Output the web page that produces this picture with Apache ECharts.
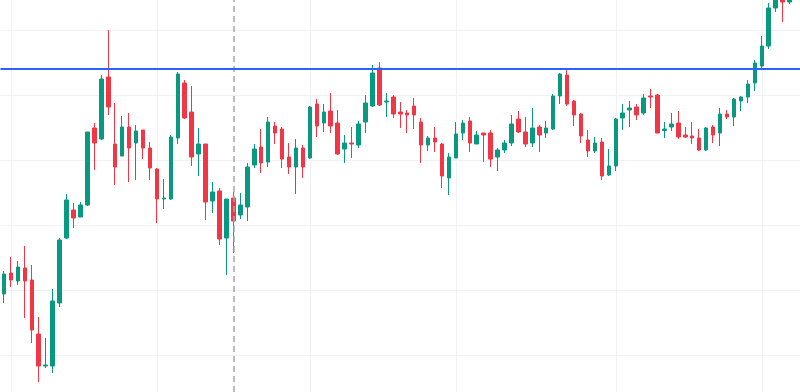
<!DOCTYPE html>
<html>
<head>
<meta charset="utf-8">
<script src="https://cdn.jsdelivr.net/npm/echarts@6/dist/echarts.min.js"></script>
<style>html,body{margin:0;padding:0;background:#fff}#c{width:800px;height:392px}</style>
</head>
<body>
<div id="c"></div>
<script>
// OHLC values: [open, close, low, high]
const ohlc = [
[12.6,14.6,11.7,14.9],[14.7,14.0,13.3,16.3],[13.9,15.3,13.5,15.9],[15.2,13.9,10.2,17.4],[14.0,9.0,7.7,15.5],
[8.6,5.4,3.8,10.3],[5.4,5.5,5.2,8.2],[5.4,11.9,4.7,13.1],[11.7,18.0,11.3,18.2],[18.2,22.0,18.1,22.6],
[21.0,20.2,19.2,21.7],[20.3,21.5,20.3,21.8],[21.5,28.8,21.4,28.8],[29.2,27.7,25.0,29.7],[28.1,34.1,28.0,34.5],
[34.3,31.3,30.5,39.0],[27.6,25.3,23.5,31.7],[26.4,29.3,26.4,30.4],[29.3,27.2,23.8,30.7],[27.7,28.9,24.0,29.5],
[29.0,27.2,26.1,29.0],[27.2,25.2,24.0,27.8],[25.1,22.1,19.7,25.2],[22.1,22.2,21.1,24.1],[22.1,28.3,22.0,28.5],
[28.2,34.6,27.6,34.8],[33.7,30.2,30.1,34.0],[30.8,26.3,25.4,33.4],[26.6,27.6,24.4,29.2],[27.6,21.8,20.0,27.6],
[21.9,22.8,20.7,23.8],[22.9,18.1,17.5,23.2],[18.2,22.1,14.5,22.1],[22.2,19.9,16.7,22.8],[20.5,21.5,20.1,22.7],
[21.3,25.3,19.9,25.7],[25.5,27.1,25.2,27.6],[27.3,25.7,24.7,29.1],[25.8,29.8,25.3,30.3],[29.4,28.7,27.6,29.8],
[29.1,26.1,25.2,29.3],[26.3,25.3,24.6,27.7],[25.3,27.2,22.6,28.1],[27.2,25.3,24.2,27.5],[26.2,31.3,26.1,31.4],
[31.6,29.4,28.3,32.1],[29.7,30.8,28.8,31.6],[30.9,29.4,28.7,32.7],[29.7,26.6,26.5,31.0],[27.1,27.7,25.7,28.5],
[27.7,27.6,26.2,29.3],[27.5,29.6,27.2,29.9],[29.8,31.7,28.7,32.5],[31.4,34.7,31.3,35.5],[35.2,31.5,31.4,35.8],
[31.8,31.9,30.3,32.7],[32.3,30.6,30.2,32.5],[30.8,30.6,29.2,31.8],[30.7,30.5,28.7,31.0],[31.4,30.5,29.1,32.2],
[29.8,27.5,25.7,30.2],[27.5,28.2,26.9,28.4],[28.2,27.8,26.8,29.3],[27.6,24.4,23.2,27.7],[24.2,26.3,22.5,26.7],
[26.2,28.6,26.2,29.8],[28.7,29.7,28.0,30.0],[29.9,27.7,26.8,30.3],[27.6,28.5,27.6,28.9],[28.7,28.5,25.8,28.7],
[28.7,26.1,25.3,29.0],[26.3,27.0,24.9,27.2],[27.0,27.7,26.7,28.0],[27.7,29.6,27.4,30.5],[30.1,28.8,28.7,30.9],
[28.8,27.6,27.3,30.3],[27.7,29.2,27.3,31.2],[29.3,28.5,26.8,29.5],[28.7,29.2,28.2,29.9],[29.1,32.4,29.0,32.6],
[32.4,34.6,31.6,34.7],[34.5,31.6,31.4,35.0],[31.9,30.5,29.4,32.0],[30.6,28.4,27.7,30.7],[28.0,26.9,26.3,29.0],
[26.9,27.7,26.7,28.3],[27.8,24.4,24.0,28.2],[24.5,25.4,24.4,27.1],[25.4,30.1,24.9,30.2],[30.2,30.7,29.0,31.6],
[31.0,31.2,29.3,31.9],[31.3,30.5,30.0,31.6],[30.7,32.2,30.5,32.6],[32.4,32.3,31.2,33.1],[32.5,28.7,28.7,32.6],
[28.95,29.1,28.2,29.8],[29.3,29.6,28.9,30.7],[29.7,28.3,28.1,30.9],[28.5,28.3,28.2,29.3],[28.4,28.2,27.6,29.8],
[28.2,27.0,26.9,29.1],[27.0,29.2,26.9,29.3],[29.3,28.5,27.7,29.5],[28.7,30.6,27.4,31.2],[30.6,30.3,30.1,31.0],
[30.3,32.1,29.4,32.2],[31.9,32.3,30.9,32.4],[32.3,33.6,31.7,34.0],[33.7,35.7,32.9,36.0],[35.4,37.4,35.2,38.4],
[37.4,41.2,37.1,41.7],[41.2,42.5,40.8,43.0],[42.6,41.8,39.8,43.0],[41.8,42.4,41.6,42.8]
];
// one empty trailing slot after the last candle
const categories = Array.from({length: ohlc.length + 1}, (_, i) => 'D' + (i + 1));
const gridCategories = ['D2', 'D23', 'D45', 'D66', 'D89', 'D110'];
const gridValues = [6.5, 13, 19.5, 26, 32.5, 39];
const markerCategory = 'D34';
const resistanceLevel = 35.1;
const yMin = 2.8, yMax = 42;

const gridStyle = {color: '#eff1f5', width: 1, type: 'solid'};
const chart = echarts.init(document.getElementById('c'), null, {renderer: 'canvas'});
chart.setOption({
  animation: false,
  backgroundColor: '#ffffff',
  grid: {left: 0.5, right: 0, top: 0, bottom: 0, containLabel: false},
  xAxis: {
    type: 'category', data: categories, boundaryGap: true,
    axisLine: {show: false}, axisTick: {show: false}, axisLabel: {show: false},
    splitLine: {show: false}
  },
  yAxis: {
    type: 'value', min: yMin, max: yMax, scale: true,
    axisLine: {show: false}, axisTick: {show: false}, axisLabel: {show: false},
    splitLine: {show: false}
  },
  series: [
    {
      type: 'line', data: [], z: 0, silent: true,
      markLine: {
        z: 0,
        silent: true, symbol: 'none', label: {show: false}, animation: false,
        lineStyle: gridStyle,
        data: gridCategories.map(c => ({xAxis: c})).concat(gridValues.map(v => ({yAxis: v})))
      }
    },
    {
      type: 'candlestick', data: ohlc, barWidth: 4, z: 2,
      itemStyle: {color: '#089981', color0: '#f23645', borderColor: '#089981', borderColor0: '#f23645', borderWidth: 1},
      markLine: {
        z: 5,
        silent: true, symbol: 'none', label: {show: false}, animation: false,
        data: [
          {xAxis: markerCategory, lineStyle: {color: '#a3a6ad', width: 1.5, type: [6, 4]}},
          {yAxis: resistanceLevel, lineStyle: {color: '#2962ff', width: 2, type: 'solid'}}
        ]
      }
    }
  ]
});
</script>
</body>
</html>
